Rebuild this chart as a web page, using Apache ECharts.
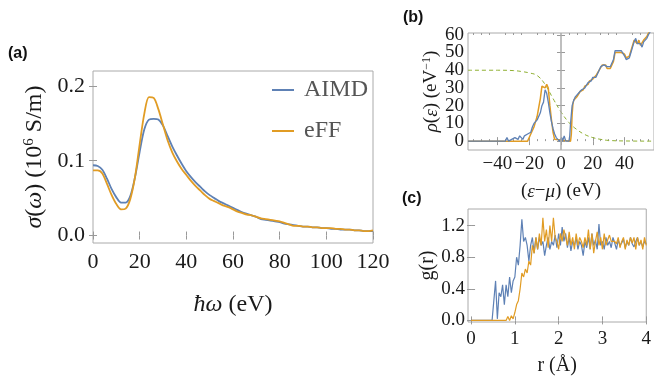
<!DOCTYPE html>
<html><head><meta charset="utf-8">
<script src="https://cdn.jsdelivr.net/npm/echarts@6/dist/echarts.min.js"></script>
<style>html,body{margin:0;padding:0;background:#fff}#c{width:654px;height:377px}</style>
</head><body><div id="c"></div>
<script>
// ---- Panel (a): optical conductivity ----
const omega = [0,2,4,6,8,10,12,14,16,18,20,22,24,26,28,30,32,34,36,38,40,42,44,46,48,50,52,54,56,58,60,62,64,66,68,70,72,74,76,78,80,82,84,86,88,90,92,94,96,98,100,102,104,106,108,110,112,114,116,118,120];
const sigmaAIMD = [0.094,0.093,0.088,0.076,0.062,0.051,0.044,0.044,0.053,0.078,0.112,0.142,0.155,0.156,0.155,0.147,0.133,0.119,0.107,0.096,0.086,0.078,0.071,0.065,0.059,0.054,0.050,0.046,0.043,0.040,0.037,0.034,0.031,0.029,0.027,0.025,0.022,0.021,0.020,0.019,0.018,0.016,0.015,0.014,0.013,0.012,0.012,0.011,0.011,0.010,0.010,0.009,0.009,0.008,0.008,0.008,0.007,0.007,0.006,0.006,0.006];
const sigmaEFF = [0.087,0.087,0.083,0.069,0.054,0.042,0.035,0.036,0.049,0.078,0.122,0.163,0.185,0.184,0.169,0.148,0.127,0.111,0.099,0.089,0.081,0.073,0.066,0.060,0.054,0.049,0.046,0.043,0.040,0.038,0.035,0.032,0.030,0.028,0.027,0.025,0.023,0.022,0.021,0.020,0.019,0.017,0.015,0.013,0.013,0.012,0.012,0.011,0.011,0.010,0.010,0.010,0.009,0.009,0.008,0.008,0.007,0.007,0.006,0.006,0.007];
const aXTicks = [0,20,40,60,80,100,120];
const aYTicks = [0,0.1,0.2];

// ---- Panel (b): density of states ----
const dosEffE = [-58.5,-21,-19,-18,-17,-16,-15,-14,-13,-12,-11,-10,-9,-8,-7,-6,-5,-4,-3,6,6.5,7,7.5,8,9,10,11,12,13,14,15,16,17,18,19,20,21,22,23,24,25,26,27,28,29,30,31,32,33,34,35,36,37,38,39,40,41,42,43,44,45,46,47,48,49,50,51,52,53,54,55,56,57,58.5];
const dosEffV = [0,0,4,6,8,11,14,19,24,31,32,30,32,30,20,12,5,1,0,0,4,15,21,23,24,25,26,28,28,29,31,31,32,34,35,35,36,37,37,40,41,43,42,43,41,42,41,42,45,50,51,50,51,50,51,49,47,46,48,51,54,57,56,55,57,54,55,57,58,59,61,62,63,64];
const dosAimdE = [-58.5,-35,-34,-33,-31,-30,-29,-28,-27,-26,-25,-24,-23,-22,-21,-20,-19,-18,-17,-16,-15,-14,-13,-12,-11,-10,-9,-8,-7,-6,-5,-4,-3,-2,-1,0,0.5,1,1.5,2,3,5,5.5,6,7,8,9,10,11,12,13,14,15,16,17,18,19,20,21,22,23,24,25,26,27,28,29,30,31,32,33,34,35,36,37,38,39,40,41,42,43,44,45,46,47,48,49,50,51,52,53,54,55,56,57,58.5];
const dosAimdV = [0,0,2,0,1,0,2,1,1,3,2,1,3,2,4,3,5,8,10,9,12,11,16,20,22,29,27,22,16,11,7,4,2,1,0,0,2,0,0,3,0,0,3,10,20,23,25,26,27,28,29,30,30,31,33,34,34,36,37,36,38,40,42,41,43,42,42,41,42,43,46,51,50,51,50,51,50,48,46,45,47,50,53,56,58,55,56,55,53,56,57,58,60,61,63,64];
const fermiE = [-58.5,-40,-30,-25,-20,-15,-10,-5,0,5,10,15,20,25,30,40,58.5];
const fermiV = [40,40,39.8,39.3,38.5,37,32,24,16.5,10.5,6.5,3.7,2,1,0.4,0.1,0];
const bXTicks = [-40,-20,0,20,40];
const bXMinor = [-55,-50,-45,-35,-30,-25,-15,-10,-5,5,10,15,25,30,35,45,50,55];
const bYTicks = [0,10,20,30,40,50,60];
const bYTicksEven = [0,20,40,60];
const bYTicksOdd = [10,30,50];

// ---- Panel (c): pair distribution g(r) ----
const rVals = [0,0.04,0.08,0.12,0.16,0.2,0.24,0.28,0.32,0.36,0.4,0.44,0.48,0.52,0.56,0.6,0.64,0.68,0.72,0.76,0.8,0.84,0.88,0.92,0.96,1,1.04,1.08,1.12,1.16,1.2,1.24,1.28,1.32,1.36,1.4,1.44,1.48,1.52,1.56,1.6,1.64,1.68,1.72,1.76,1.8,1.84,1.88,1.92,1.96,2,2.04,2.08,2.12,2.16,2.2,2.24,2.28,2.32,2.36,2.4,2.44,2.48,2.52,2.56,2.6,2.64,2.68,2.72,2.76,2.8,2.84,2.88,2.92,2.96,3,3.04,3.08,3.12,3.16,3.2,3.24,3.28,3.32,3.36,3.4,3.44,3.48,3.52,3.56,3.6,3.64,3.68,3.72,3.76,3.8,3.84,3.88,3.92,3.96,4];
const gAIMD = [0,0,0,0,0,0,0,0,0,0,0,0,0,0,0.5,0.02,0.35,0.3,0.45,0.2,0.45,0.3,0.55,0.35,0.5,0.55,0.8,0.7,0.95,1.28,1.0,1.05,0.95,0.75,0.95,1.05,0.85,1.05,0.9,1.05,0.95,1.0,0.82,0.95,1.05,0.9,1.0,0.95,1.08,0.92,1.1,0.95,1.18,1.0,1.1,0.92,1.05,0.88,1.0,0.95,1.05,0.9,1.0,0.95,0.82,1.0,0.92,1.05,0.9,1.1,0.95,1.02,0.9,1.22,0.95,1.0,0.9,1.05,0.95,1.0,0.92,1.05,0.98,0.9,1.02,0.95,0.98,1.03,0.92,1.0,0.95,1.05,0.97,0.93,1.0,1.05,0.95,1.0,0.93,1.0,0.97];
const gEFF = [0,0,0,0,0,0,0,0,0,0,0,0,0,0,0,0,0,0,0,0,0,0.05,0,0.06,0.02,0.1,0.2,0.25,0.4,0.6,0.55,0.65,0.6,0.75,0.7,0.95,0.85,1.05,0.9,1.1,0.95,1.3,1.0,1.15,0.92,1.2,1.0,1.3,1.05,1.0,0.9,1.1,1.0,1.15,1.05,0.95,1.12,0.95,1.05,0.9,1.1,0.95,1.05,1.0,0.92,1.05,0.95,1.15,0.9,1.1,0.85,1.0,1.12,0.95,1.05,0.9,1.1,0.95,1.02,1.08,1.0,1.02,1.0,0.97,1.05,0.92,1.0,1.05,0.9,1.02,0.95,1.05,0.98,1.05,0.9,1.05,0.95,1.02,0.9,1.05,0.95];
const cXTicks = [0,1,2,3,4];
const cYTicks = [0,0.4,0.8,1.2];

const BLUE = '#5E81B5', ORANGE = '#E19C24', GREEN = '#8FB032';
const SERIF = '"Liberation Serif","DejaVu Serif",serif';
const pairs = (xs, ys) => xs.map((x, i) => [x, ys[i]]);
const minus = v => (v < 0 ? '\u2212' + (-v) : String(v));

function ax(gridIndex, min, max, pos, ticks, opts) {
  opts = opts || {};
  const labVals = opts.labelVals || (opts.labels ? ticks : null);
  const lab = labVals ? {
    show: true, customValues: labVals, fontFamily: SERIF, fontSize: opts.fs || 22, color: '#1a1a1a',
    margin: opts.margin == null ? 8 : opts.margin, formatter: opts.fmt || (v => String(v)),
    showMinLabel: true, showMaxLabel: true, hideOverlap: false
  } : { show: false };
  return Object.assign({
    type: 'value', gridIndex, min, max, position: pos,
    axisLine: { show: false }, splitLine: { show: false },
    axisTick: { show: !opts.noTick, inside: true, length: opts.tl || 4, customValues: ticks, lineStyle: { color: '#999', width: 1 } },
    axisLabel: lab
  }, opts.extra || {});
}

const richIt = (fs) => ({
  i: { fontStyle: 'italic', fontFamily: SERIF, fontSize: fs, color: '#1a1a1a' },
  s: { fontFamily: SERIF, fontSize: Math.round(fs * 0.62), color: '#1a1a1a', verticalAlign: 'top', padding: [0, 0, Math.round(fs * 0.45), 0] }
});

const option = {
  backgroundColor: '#fff',
  animation: false,
  grid: [
    { left: 93, top: 71, width: 280, height: 172, show: true, borderColor: '#aaa', borderWidth: 1, backgroundColor: 'transparent' },
    { left: 468, top: 33, width: 186, height: 117, show: true, borderColor: '#aaa', borderWidth: 1, backgroundColor: 'transparent' },
    { left: 468, top: 209, width: 186, height: 118, show: true, borderColor: '#aaa', borderWidth: 1, backgroundColor: 'transparent' }
  ],
  xAxis: [
    ax(0, 0, 120, 'bottom', aXTicks, { labels: true, fs: 22, margin: 8, extra: {
      name: '{i|ħω} (eV)', nameLocation: 'middle', nameGap: 50,
      nameTextStyle: { fontFamily: SERIF, fontSize: 24, color: '#1a1a1a', rich: richIt(24) } } }),
    ax(0, 0, 120, 'top', aXTicks),
    ax(1, -58.5, 58.5, 'bottom', bXTicks, { labels: true, fs: 19, margin: 5, tl: 4, fmt: minus, extra: {
      name: '({i|ε}\u2212{i|μ}) (eV)', nameLocation: 'middle', nameGap: 32,
      nameTextStyle: { fontFamily: SERIF, fontSize: 19, color: '#1a1a1a', rich: richIt(19) } } }),
    ax(1, -58.5, 58.5, 'top', bXTicks),
    ax(2, -0.07, 4.0, 'bottom', cXTicks, { labels: true, fs: 19, margin: 8, extra: {
      name: 'r (Å)', nameLocation: 'middle', nameGap: 34,
      nameTextStyle: { fontFamily: SERIF, fontSize: 20, color: '#1a1a1a' } } }),
    ax(2, -0.07, 4.0, 'top', cXTicks),
    ax(1, -58.5, 58.5, 'bottom', bXMinor, { tl: 2 }),
    ax(1, -58.5, 58.5, 'top', bXMinor, { tl: 2 })
  ],
  yAxis: [
    ax(0, -0.01, 0.22, 'left', aYTicks, { labels: true, fs: 22, margin: 8, fmt: v => v.toFixed(1), extra: {
      name: '{i|σ}({i|ω}) (10{s|6} S/m)', nameLocation: 'middle', nameGap: 45,
      nameTextStyle: { fontFamily: SERIF, fontSize: 24, color: '#1a1a1a', rich: richIt(24) } } }),
    ax(0, -0.01, 0.22, 'right', aYTicks),
    ax(1, -5, 61, 'left', bYTicks, { labelVals: bYTicksEven, fs: 19, margin: 4, extra: {
      name: '{i|ρ}({i|ε}) (eV{s|\u22121})', nameLocation: 'middle', nameGap: 26,
      nameTextStyle: { fontFamily: SERIF, fontSize: 19, color: '#1a1a1a', rich: richIt(19) } } }),
    ax(1, -5, 61, 'right', bYTicks),
    ax(2, -0.02, 1.41, 'left', cYTicks, { labels: true, fs: 19, margin: 3, fmt: v => v.toFixed(1), extra: {
      name: 'g(r)', nameLocation: 'middle', nameGap: 30,
      nameTextStyle: { fontFamily: SERIF, fontSize: 20, color: '#1a1a1a' } } }),
    ax(2, -0.02, 1.41, 'right', cYTicks),
    ax(1, -5, 61, 'left', bYTicks, { labelVals: bYTicksOdd, fs: 19, margin: 4, noTick: true, extra: { offset: 0 } })
  ],
  legend: {
    orient: 'vertical', left: 267, top: 73, itemWidth: 22, itemHeight: 2, itemGap: 17, icon: 'rect',
    data: ['AIMD', 'eFF'],
    textStyle: { fontFamily: SERIF, fontSize: 24, color: '#555', padding: [0, 0, 0, 5] }
  },
  series: [
    { name: 'AIMD', type: 'line', xAxisIndex: 0, yAxisIndex: 0, data: pairs(omega, sigmaAIMD), smooth: 0.3, symbol: 'none', lineStyle: { color: BLUE, width: 1.8 }, itemStyle: { color: BLUE }, z: 3 },
    { name: 'eFF', type: 'line', xAxisIndex: 0, yAxisIndex: 0, data: pairs(omega, sigmaEFF), smooth: 0.3, symbol: 'none', lineStyle: { color: ORANGE, width: 1.8 }, itemStyle: { color: ORANGE }, z: 4 },
    { name: 'Fermi', type: 'line', xAxisIndex: 2, yAxisIndex: 2, data: pairs(fermiE, fermiV), smooth: 0.4, symbol: 'none', lineStyle: { color: GREEN, width: 1, type: [4, 3] }, z: 2,
      markLine: { silent: true, symbol: 'none', label: { show: false }, lineStyle: { color: '#aaa', width: 1.5, type: 'solid' }, data: [{ xAxis: 0 }] } },
    { name: 'eFF DOS', type: 'line', xAxisIndex: 2, yAxisIndex: 2, data: pairs(dosEffE, dosEffV), symbol: 'none', lineStyle: { color: ORANGE, width: 1.5 }, z: 3 },
    { name: 'AIMD DOS', type: 'line', xAxisIndex: 2, yAxisIndex: 2, data: pairs(dosAimdE, dosAimdV), symbol: 'none', lineStyle: { color: BLUE, width: 1.3 }, z: 4 },
    { name: 'AIMD g', type: 'line', xAxisIndex: 4, yAxisIndex: 4, data: pairs(rVals, gAIMD), symbol: 'none', lineStyle: { color: BLUE, width: 1.2 }, z: 3 },
    { name: 'eFF g', type: 'line', xAxisIndex: 4, yAxisIndex: 4, data: pairs(rVals, gEFF), symbol: 'none', lineStyle: { color: ORANGE, width: 1.2 }, z: 4 }
  ],
  graphic: [
    { type: 'text', left: 8, top: 46, style: { text: '(a)', font: 'bold 16px "Liberation Sans", sans-serif', fill: '#111' } },
    { type: 'text', left: 403, top: 10, style: { text: '(b)', font: 'bold 16px "Liberation Sans", sans-serif', fill: '#111' } },
    { type: 'text', left: 402, top: 191, style: { text: '(c)', font: 'bold 16px "Liberation Sans", sans-serif', fill: '#111' } }
  ]
};
const chart = echarts.init(document.getElementById('c'), null, { renderer: 'canvas' });
chart.setOption(option);
</script></body></html>
